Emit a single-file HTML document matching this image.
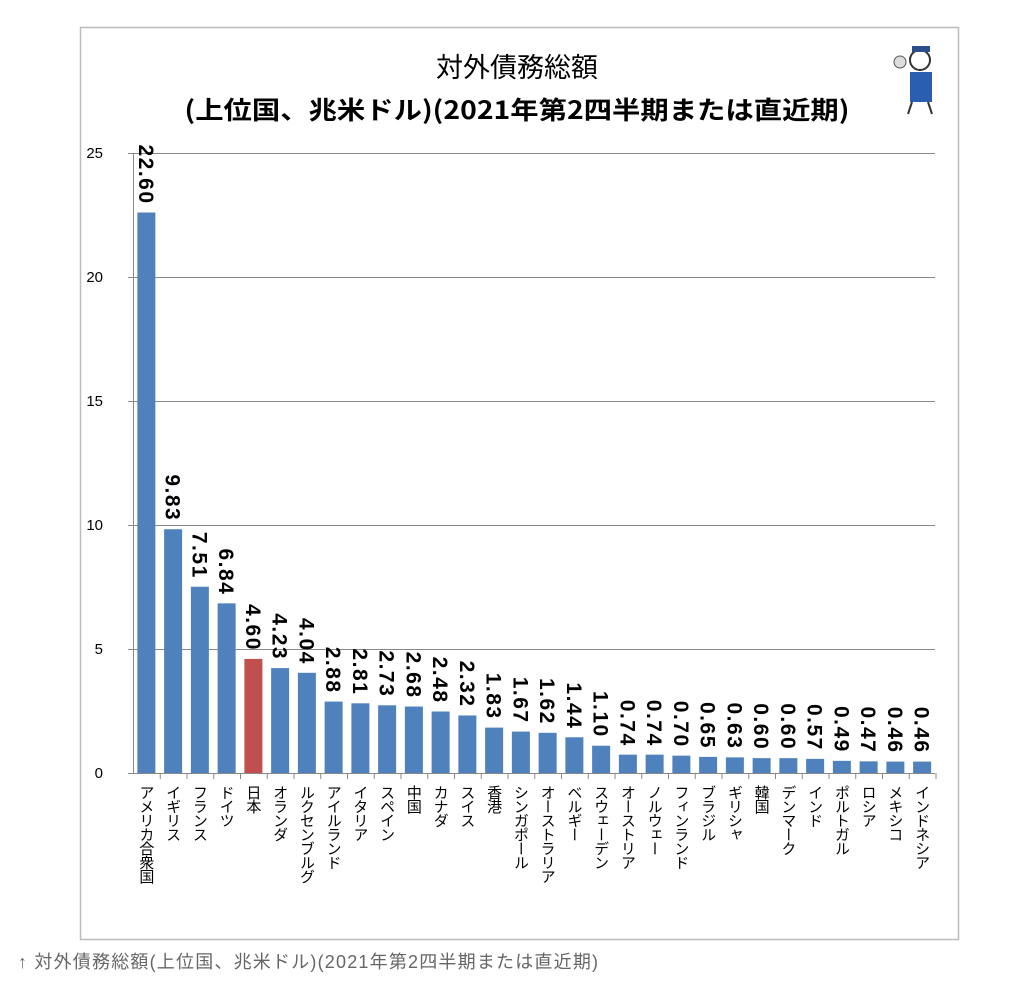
<!DOCTYPE html>
<html><head><meta charset="utf-8"><style>
body{margin:0;background:#fff;width:1024px;height:984px;overflow:hidden;font-family:"Liberation Sans","Noto Sans CJK JP",sans-serif;}
.cat{position:absolute;top:785px;writing-mode:vertical-rl;font-size:15px;line-height:18px;letter-spacing:-1px;color:#000;font-family:"Noto Sans CJK JP",sans-serif;white-space:nowrap;}
</style></head><body>
<svg width="1024" height="984" style="position:absolute;left:0;top:0" xmlns="http://www.w3.org/2000/svg">
<rect x="80.5" y="27.5" width="878" height="912" fill="#fff" stroke="#bbb" stroke-width="1.5"/>
<text x="517" y="77" text-anchor="middle" font-size="27" font-family="Noto Sans CJK JP,sans-serif">対外債務総額</text>
<text x="517" y="119" text-anchor="middle" font-size="25" font-weight="bold" font-family="Noto Sans CJK JP,sans-serif" textLength="665" lengthAdjust="spacingAndGlyphs">(上位国、兆米ドル)(2021年第2四半期または直近期)</text>
<g font-family="Liberation Sans,sans-serif" font-size="15" text-anchor="end" fill="#000">
<text x="103" y="158">25</text><text x="103" y="282">20</text><text x="103" y="406">15</text><text x="103" y="530">10</text><text x="103" y="654">5</text><text x="103" y="778">0</text>
</g>
<g stroke="#888" stroke-width="1">
<line x1="128" y1="153.5" x2="935" y2="153.5"/><line x1="128" y1="277.5" x2="935" y2="277.5"/><line x1="128" y1="401.5" x2="935" y2="401.5"/><line x1="128" y1="525.5" x2="935" y2="525.5"/><line x1="128" y1="649.5" x2="935" y2="649.5"/><line x1="128" y1="773.5" x2="935" y2="773.5"/>
<line x1="133.5" y1="153" x2="133.5" y2="773"/>
</g>
<g id="bars"></g>
</svg>
<div id="cats"></div>
<div style="position:absolute;left:890px;top:42px;width:50px;height:75px">
<svg width="50" height="75"><circle cx="30" cy="18" r="10" fill="#fff" stroke="#333" stroke-width="2"/><rect x="22" y="4" width="18" height="6" fill="#2a4f8a"/><rect x="20" y="30" width="22" height="30" fill="#2a5fb0"/><circle cx="10" cy="20" r="6" fill="#ddd" stroke="#555"/><line x1="22" y1="60" x2="18" y2="72" stroke="#333" stroke-width="2"/><line x1="38" y1="60" x2="42" y2="72" stroke="#333" stroke-width="2"/></svg>
</div>
<div style="position:absolute;left:18px;top:948px;font-size:18px;letter-spacing:1.2px;color:#666;font-family:'Liberation Sans','Noto Sans CJK JP',sans-serif;white-space:nowrap">↑ 対外債務総額(上位国、兆米ドル)(2021年第2四半期または直近期)</div>
<script>
var v=[22.60,9.83,7.51,6.84,4.60,4.23,4.04,2.88,2.81,2.73,2.68,2.48,2.32,1.83,1.67,1.62,1.44,1.10,0.74,0.74,0.70,0.65,0.63,0.60,0.60,0.57,0.49,0.47,0.46,0.46];
var n=["アメリカ合衆国","イギリス","フランス","ドイツ","日本","オランダ","ルクセンブルグ","アイルランド","イタリア","スペイン","中国","カナダ","スイス","香港","シンガポール","オーストラリア","ベルギー","スウェーデン","オーストリア","ノルウェー","フィンランド","ブラジル","ギリシャ","韓国","デンマーク","インド","ポルトガル","ロシア","メキシコ","インドネシア"];
var g=document.getElementById('bars'),s='',c='',w=26.75;
for(var i=0;i<30;i++){var cx=133+w/2+w*i,h=v[i]*24.8,t=773-h;
s+='<rect x="'+(cx-9)+'" y="'+t+'" width="18" height="'+h+'" fill="'+(i==4?'#c0504d':'#4f81bd')+'"/>';
s+='<line x1="'+(133.5+w*(i+1))+'" y1="773" x2="'+(133.5+w*(i+1))+'" y2="779" stroke="#888"/>';
s+='<text transform="translate('+(cx-7.5)+','+(t-8)+') rotate(90)" text-anchor="end" font-size="21" font-weight="bold" letter-spacing="1.5" font-family="Liberation Sans,sans-serif">'+v[i].toFixed(2)+'</text>';
c+='<div class="cat" style="left:'+(cx-9)+'px">'+n[i]+'</div>';}
g.innerHTML=s;document.getElementById('cats').innerHTML=c;
</script>
</body></html>
